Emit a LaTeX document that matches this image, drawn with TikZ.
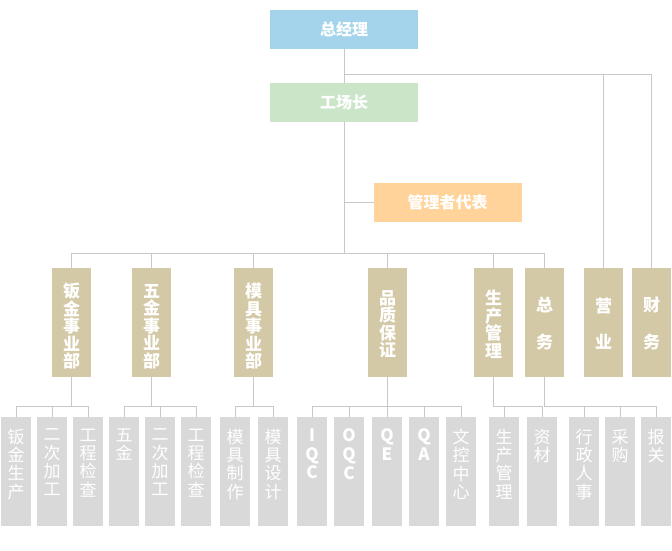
\documentclass[tikz,border=0pt]{standalone}
\usepackage{fontspec}
\newfontfamily\cjk{Noto Sans CJK SC}
\definecolor{topblue}{HTML}{A4D4EB}
\definecolor{topgreen}{HTML}{CBE5C8}
\definecolor{toporange}{HTML}{FFD39A}
\definecolor{depttan}{HTML}{D4C9A7}
\definecolor{subgray}{HTML}{D9D9D9}
\definecolor{linegray}{HTML}{C8C8C8}
\begin{document}
\begin{tikzpicture}[x=1pt,y=-1pt,
  every node/.style={inner sep=0pt, outer sep=0pt},
  conn/.style={draw=linegray, line width=1pt},
  topbox/.style={rectangle, minimum width=148pt, minimum height=39pt, text=white, font=\cjk\bfseries\fontsize{16}{18}\selectfont},
  deptbox/.style={rectangle, fill=depttan, minimum width=39pt, minimum height=109pt},
  depttext/.style={text=white, align=center, font=\cjk\bfseries\fontsize{17}{17.5}\selectfont},
  subbox/.style={rectangle, fill=subgray, minimum width=30pt, minimum height=109pt},
  subtext/.style={text=white, align=center, anchor=north, font=\cjk\fontsize{17}{18.3}\selectfont},
  subtextb/.style={subtext, font=\cjk\bfseries\fontsize{17}{18.6}\selectfont},
]
\useasboundingbox (0,0) rectangle (672,550);
\fill[white] (0,0) rectangle (672,550);

% top
\node[topbox, fill=topblue] (zjl) at (344,29.5) {总经理};
\node[topbox, fill=topgreen] (gcz) at (344,102.5) {工场长};
\node[topbox, fill=toporange] (dbr) at (447.5,202.5) {管理者代表};

% departments
\foreach \n/\x in {1/71.5,2/151.5,3/253.5,4/387.5,5/493.5,6/544.5,7/603.5,8/651.5}
  \node[deptbox] (d\n) at (\x,322.5) {};
\node[depttext] (e1) at ([yshift=-4pt]d1.center) {钣\\金\\事\\业\\部};
\node[depttext] (e2) at ([yshift=-4pt]d2.center) {五\\金\\事\\业\\部};
\node[depttext] (e3) at ([yshift=-4pt]d3.center) {模\\具\\事\\业\\部};
\node[depttext] (e4) at ([yshift=-2pt]d4.center) {品\\质\\保\\证};
\node[depttext] (e5) at ([yshift=-2pt]d5.center) {生\\产\\管\\理};
\node[depttext] (e6) at ([yshift=-1pt]d6.center) {总\\[19pt]务};
\node[depttext] (e7) at ([yshift=-1pt]d7.center) {营\\[19pt]业};
\node[depttext] (e8) at ([yshift=-1pt]d8.center) {财\\[19pt]务};

% sub boxes
\foreach \n/\x in {1/16,2/52,3/88,4/124,5/160,6/196,7/235,8/273,9/312,10/349,11/387,12/424,13/461,14/504,15/542,16/584,17/620,18/656}
  \node[subbox] (c\n) at (\x,471.5) {};

\node[subtext] (t1) at ([yshift=-12pt]c1.north) {钣\\金\\生\\产};
\node[subtext] (t2) at ([yshift=-12pt]c2.north) {二\\次\\加\\工};
\node[subtext] (t3) at ([yshift=-12pt]c3.north) {工\\程\\检\\查};
\node[subtext] (t4) at ([yshift=-12pt]c4.north) {五\\金};
\node[subtext] (t5) at ([yshift=-12pt]c5.north) {二\\次\\加\\工};
\node[subtext] (t6) at ([yshift=-12pt]c6.north) {工\\程\\检\\查};
\node[subtext] (t7) at ([yshift=-12pt]c7.north) {模\\具\\制\\作};
\node[subtext] (t8) at ([yshift=-12pt]c8.north) {模\\具\\设\\计};
\node[subtextb] (t9) at ([yshift=-12pt]c9.north) {I\\Q\\C};
\node[subtextb] (t10) at ([yshift=-12pt]c10.north) {O\\Q\\C};
\node[subtextb] (t11) at ([yshift=-12pt]c11.north) {Q\\E};
\node[subtextb] (t12) at ([yshift=-12pt]c12.north) {Q\\A};
\node[subtext] (t13) at ([yshift=-12pt]c13.north) {文\\控\\中\\心};
\node[subtext] (t14) at ([yshift=-12pt]c14.north) {生\\产\\管\\理};
\node[subtext] (t15) at ([yshift=-12pt]c15.north) {资\\材};
\node[subtext] (t16) at ([yshift=-12pt]c16.north) {行\\政\\人\\事};
\node[subtext] (t17) at ([yshift=-12pt]c17.north) {采\\购};
\node[subtext] (t18) at ([yshift=-12pt]c18.north) {报\\关};

% coordinates of buses
\coordinate (j1) at (344,74);
\coordinate (bus) at (0,253);
\coordinate (sb) at (0,406);

% top connectors
\draw[conn] (zjl.south) -- (gcz.north);
\draw[conn] (j1) -| (d8.north);
\draw[conn] (d7.north |- j1) -- (d7.north);
\draw[conn] (gcz.south) -- (gcz.south |- bus);
\draw[conn] (gcz.south |- dbr.west) -- (dbr.west);

% department bus
\draw[conn] (d1.north) |- (d6.north |- bus) -- (d6.north);
\foreach \d in {d2,d3,d4,d5}
  \draw[conn] (\d.north) -- (\d.north |- bus);

% groups
\draw[conn] (d1.south) -- (d1.south |- sb);
\draw[conn] (c1.north) |- (c3.north |- sb) -- (c3.north);
\draw[conn] (c2.north) -- (c2.north |- sb);

\draw[conn] (d2.south) -- (d2.south |- sb);
\draw[conn] (c4.north) |- (c6.north |- sb) -- (c6.north);
\draw[conn] (c5.north) -- (c5.north |- sb);

\draw[conn] (d3.south) -- (d3.south |- sb);
\draw[conn] (c7.north) |- (c8.north |- sb) -- (c8.north);

\draw[conn] (d4.south) -- (d4.south |- sb);
\draw[conn] (c9.north) |- (c13.north |- sb) -- (c13.north);
\foreach \c in {c10,c11,c12}
  \draw[conn] (\c.north) -- (\c.north |- sb);

\draw[conn] (d5.south) |- (c15.north |- sb) -- (c15.north);
\draw[conn] (c14.north) -- (c14.north |- sb);

\draw[conn] (d6.south) |- (c18.north |- sb) -- (c18.north);
\foreach \c in {c16,c17}
  \draw[conn] (\c.north) -- (\c.north |- sb);
\end{tikzpicture}
\end{document}
